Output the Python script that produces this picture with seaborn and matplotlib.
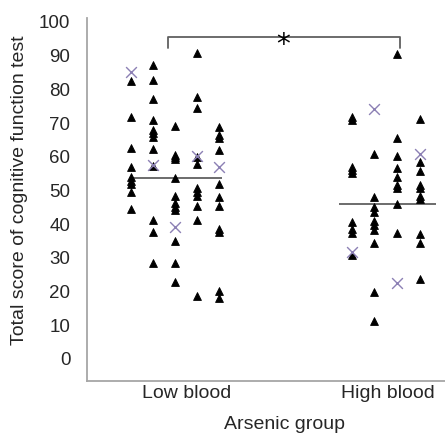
import numpy as np
import pandas as pd
import matplotlib
matplotlib.use("Agg")
import matplotlib.pyplot as plt
import seaborn as sns

# ---------------- data ----------------
categories = ["Low blood", "High blood"]
cat_pos = [1.0, 2.0]
low_cols = [0.72, 0.83, 0.94, 1.05, 1.16]
high_cols = [1.82, 1.93, 2.045, 2.16]

low_c1 = [82.7, 72.8, 64.1, 58.9, 56.2, 55.2, 54.3, 52.1, 47.3]
low_c2 = [87.1, 82.9, 77.6, 71.9, 69.1, 68.2, 67.1, 63.8, 59.2, 44.3, 41.1, 32.6]
low_c3 = [70.3, 62.3, 61.6, 61.1, 55.8, 51.0, 49.0, 48.0, 47.1, 38.7, 32.6, 27.4]
low_c4 = [90.4, 78.3, 75.3, 61.8, 59.8, 53.1, 52.1, 51.0, 48.3, 44.4, 23.4]
low_c5 = [69.9, 67.8, 66.9, 63.6, 54.3, 50.6, 48.3, 41.8, 41.1, 24.9, 22.8]

high_c1 = [72.8, 71.9, 59.0, 58.1, 57.2, 43.9, 41.8, 40.7, 34.7]
high_c2 = [62.5, 50.6, 48.0, 46.6, 44.1, 43.0, 41.6, 37.9, 24.4, 16.5]
high_c3 = [90.1, 66.9, 62.1, 58.6, 56.1, 54.0, 53.1, 48.8, 40.7]
high_c4 = [72.1, 60.4, 57.9, 54.0, 53.1, 51.0, 50.1, 40.5, 37.9, 28.0]

low_cross = [85.0, 59.5, 42.3, 62.0, 59.0]     # one "x" per column
high_cross = [35.6, 74.9, 26.9, 62.5]

means = [55.9, 48.8]
yticks = [0, 10, 20, 30, 40, 50, 60, 70, 80, 90, 100]
sig_label = "*"

# ---------------- table ----------------
rows = []
for xs, cols in ((low_cols, [low_c1, low_c2, low_c3, low_c4, low_c5]),
                 (high_cols, [high_c1, high_c2, high_c3, high_c4])):
    for xpos, vals in zip(xs, cols):
        for v in vals:
            rows.append({"x": xpos, "score": v, "kind": "tri"})
for xs, vals in ((low_cols, low_cross), (high_cols, high_cross)):
    for xpos, v in zip(xs, vals):
        rows.append({"x": xpos, "score": v, "kind": "cross"})
df = pd.DataFrame(rows)

# ---------------- figure ----------------
sns.set_style("white")
plt.rcParams["font.family"] = ["Liberation Sans", "DejaVu Sans"]

fig = plt.figure(figsize=(4.45, 4.40), dpi=100)
ax = fig.add_axes([87 / 445, 1 - 381 / 440, (445 - 87) / 445, (381 - 18) / 440])

sns.scatterplot(data=df[df.kind == "tri"], x="x", y="score", marker="^",
                color="black", edgecolor="black", s=32, linewidth=0.6,
                ax=ax, legend=False, zorder=3)
sns.scatterplot(data=df[df.kind == "cross"], x="x", y="score", marker="x",
                color="#8C80B4", s=60, linewidth=1.0, ax=ax, legend=False, zorder=4)

# mean lines
spans = [(-0.274, 0.174), (-0.244, 0.239)]
for c, m, (a, b) in zip(cat_pos, means, spans):
    ax.hlines(m, c + a, c + b, color="#606060", linewidth=1.3, zorder=2)

# significance bracket
x0, x1 = 0.905, 2.06
ytop, yleg = 94.8, 91.7
ax.plot([x0, x0, x1, x1], [yleg, ytop, ytop, yleg], color="#606060",
        linewidth=1.3, zorder=2)
ax.text(1.478, ytop - 2.2, sig_label, ha="center", va="center",
        fontsize=20, color="black", family="DejaVu Sans")

# axes
ax.set_xlim(0.5025, 2.284)
ax.set_ylim(0, 100)
ax.set_xticks(cat_pos)
ax.set_xticklabels(categories, fontsize=14)
ax.tick_params(axis="x", length=0, pad=3)

ax.set_yticks(yticks)
ax.set_yticklabels([])
ax.tick_params(axis="y", which="major", length=5, width=1, color="#A6A6A6",
               direction="out")
label_pos = [6.1 + v * 0.928 for v in yticks]
ax.set_yticks(label_pos, minor=True)
ax.set_yticklabels([str(v) for v in yticks], minor=True, fontsize=13.5)
ax.tick_params(axis="y", which="minor", length=0, pad=12)

for s in ("top", "right"):
    ax.spines[s].set_visible(False)
for s in ("left", "bottom"):
    ax.spines[s].set_color("#A6A6A6")
    ax.spines[s].set_linewidth(1.3)

ax.set_xlabel("Arsenic group", fontsize=14)
ax.set_ylabel("Total score of cognitive function test", fontsize=14)
ax.xaxis.set_label_coords(0.553, -0.096)
ax.yaxis.set_label_coords(-0.165, 0.526)

fig.savefig("out.png", dpi=100)
